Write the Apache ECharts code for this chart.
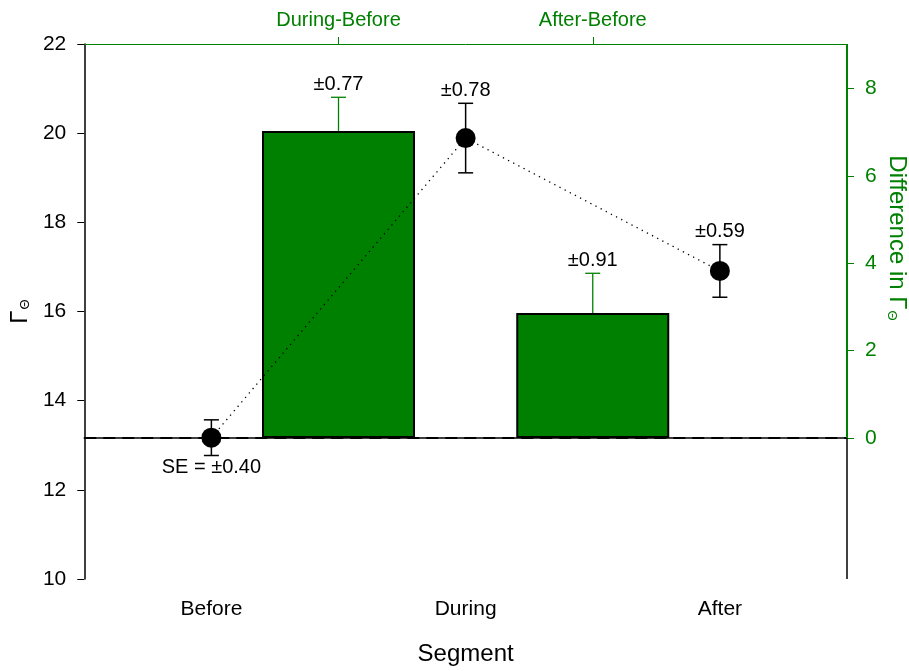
<!DOCTYPE html>
<html>
<head>
<meta charset="utf-8">
<script src="https://cdn.jsdelivr.net/npm/echarts@6/dist/echarts.min.js"></script>
<style>html,body{margin:0;padding:0;background:#fff;}#c{width:909px;height:671px;}</style>
</head>
<body>
<div id="c"></div>
<script>
// ---- data ----
const segments = ['Before', 'During', 'After'];
const segmentMeans = [13.17, 19.89, 16.91];
const segmentSE = [0.40, 0.78, 0.59];
const segmentLabels = ['SE = ±0.40', '±0.78', '±0.59'];

const diffCategories = [' ', 'During-Before', 'After-Before', '  '];
const diffValues = ['-', 7.03, 2.86, '-'];
const diffSE = [null, 0.77, 0.91, null];
const diffLabels = [null, '±0.77', '±0.91', null];

const leftTicks = [10, 12, 14, 16, 18, 20, 22];
const rightTicks = [0, 2, 4, 6, 8];
const rightMin = -3.23, rightMax = 9.02;

const GREEN = '#008000';
const FONT = 'Liberation Sans, Arial, sans-serif';

const chart = echarts.init(document.getElementById('c'), null, {renderer: 'canvas'});

const pointErr = segments.map((s, i) => [i, segmentMeans[i], segmentSE[i]]);
const barErr = [];
diffValues.forEach((v, i) => { if (diffSE[i] != null) barErr.push([i, v, diffSE[i]]); });

chart.setOption({
  backgroundColor: '#fff',
  animation: false,
  textStyle: {fontFamily: FONT},
  grid: {left: 83, right: 62, top: 44, bottom: 90, containLabel: false},
  xAxis: [
    {
      type: 'category', data: segments, position: 'bottom', boundaryGap: true,
      axisLine: {lineStyle: {color: '#000', width: 1.5}},
      axisTick: {alignWithLabel: true, length: 7, lineStyle: {color: '#000', width: 1}},
      axisLabel: {color: '#000', fontSize: 21, margin: 20},
      name: 'Segment', nameLocation: 'middle', nameGap: 63,
      nameTextStyle: {color: '#000', fontSize: 24},
      splitLine: {show: false}
    },
    {
      type: 'category', data: diffCategories, position: 'top', boundaryGap: false,
      axisLine: {lineStyle: {color: GREEN, width: 1}},
      axisTick: {length: 7, interval: (i) => i === 1 || i === 2, lineStyle: {color: GREEN, width: 1}},
      axisLabel: {color: GREEN, fontSize: 20, margin: 14, interval: (i) => i === 1 || i === 2},
      splitLine: {show: false}
    }
  ],
  yAxis: [
    {
      type: 'value', position: 'left', min: 10, max: 22, interval: 2,
      axisLine: {show: true, lineStyle: {color: '#000', width: 1.5}},
      axisTick: {show: true, length: 7, lineStyle: {color: '#000'}},
      axisLabel: {color: '#000', fontSize: 21, margin: 18, customValues: leftTicks},
      splitLine: {show: false},
      name: '{g|Γ}{s|Θ}', nameLocation: 'middle', nameGap: 52, nameRotate: 90,
      nameTextStyle: {color: '#000', rich: {
        g: {fontSize: 24, color: '#000', fontFamily: FONT},
        s: {fontSize: 13, color: '#000', fontFamily: FONT, verticalAlign: 'bottom', padding: [10, 0, 0, 1]}
      }}
    },
    {
      type: 'value', position: 'right', min: rightMin, max: rightMax,
      axisLine: {show: false},
      axisTick: {show: true, length: 7, customValues: rightTicks, lineStyle: {color: GREEN}},
      axisLabel: {color: GREEN, fontSize: 21, margin: 18, customValues: rightTicks},
      splitLine: {show: false}
    }
  ],
  graphic: [{
    type: 'text', x: 897, y: 238, rotation: -Math.PI / 2,
    style: {
      text: 'Difference in {g|Γ}{s|Θ}', fill: GREEN, fontSize: 24, fontFamily: FONT,
      align: 'center', verticalAlign: 'middle',
      rich: {
        g: {fontSize: 24, fill: GREEN, fontFamily: FONT},
        s: {fontSize: 13, fill: GREEN, fontFamily: FONT, verticalAlign: 'bottom', padding: [10, 0, 0, 1]}
      }
    }
  }],
  series: [
    {
      type: 'bar', xAxisIndex: 1, yAxisIndex: 1, data: diffValues, barWidth: 153, z: 2,
      itemStyle: {color: GREEN, borderColor: '#000', borderWidth: 2},
      markLine: {
        silent: true, symbol: 'none', z: 3, label: {show: false},
        data: [
          {yAxis: 0, lineStyle: {color: '#000', type: [12, 7], width: 2}},
          [{coord: [3, rightMin], lineStyle: {color: '#000', type: 'solid', width: 1.5}}, {coord: [3, 0]}],
          [{coord: [3, 0], lineStyle: {color: GREEN, type: 'solid', width: 2}}, {coord: [3, rightMax]}]
        ]
      }
    },
    {
      type: 'custom', xAxisIndex: 1, yAxisIndex: 1, data: barErr, z: 4,
      renderItem: (params, api) => {
        const i = api.value(0), v = api.value(1), se = api.value(2);
        const b = api.coord([i, v]);
        const t = api.coord([i, v + se]);
        const half = 7.5;
        return {type: 'group', children: [
          {type: 'line', shape: {x1: b[0], y1: b[1], x2: t[0], y2: t[1]}, style: {stroke: GREEN, lineWidth: 1.3}},
          {type: 'line', shape: {x1: t[0] - half, y1: t[1], x2: t[0] + half, y2: t[1]}, style: {stroke: GREEN, lineWidth: 1.3}},
          {type: 'text', x: t[0], y: t[1] - 3, style: {text: diffLabels[i], fill: '#000', fontSize: 20, fontFamily: FONT, align: 'center', verticalAlign: 'bottom'}}
        ]};
      }
    },
    {
      type: 'line', xAxisIndex: 0, yAxisIndex: 0, data: segmentMeans, z: 6,
      symbol: 'circle', symbolSize: 20,
      itemStyle: {color: '#000'},
      lineStyle: {color: '#000', width: 1.3, type: [1.3, 4.5]}
    },
    {
      type: 'custom', xAxisIndex: 0, yAxisIndex: 0, data: pointErr, z: 5,
      renderItem: (params, api) => {
        const i = api.value(0), m = api.value(1), se = api.value(2);
        const t = api.coord([i, m + se]);
        const b = api.coord([i, m - se]);
        const half = 7.5;
        const st = {stroke: '#000', lineWidth: 1.5};
        const below = params.dataIndex === 0;
        return {type: 'group', children: [
          {type: 'line', shape: {x1: t[0], y1: t[1], x2: b[0], y2: b[1]}, style: st},
          {type: 'line', shape: {x1: t[0] - half, y1: t[1], x2: t[0] + half, y2: t[1]}, style: st},
          {type: 'line', shape: {x1: b[0] - half, y1: b[1], x2: b[0] + half, y2: b[1]}, style: st},
          below
            ? {type: 'text', x: b[0], y: b[1] + 2, style: {text: segmentLabels[i], fill: '#000', fontSize: 20, fontFamily: FONT, align: 'center', verticalAlign: 'top'}}
            : {type: 'text', x: t[0], y: t[1] - 3, style: {text: segmentLabels[i], fill: '#000', fontSize: 20, fontFamily: FONT, align: 'center', verticalAlign: 'bottom'}}
        ]};
      }
    }
  ]
});
</script>
</body>
</html>
